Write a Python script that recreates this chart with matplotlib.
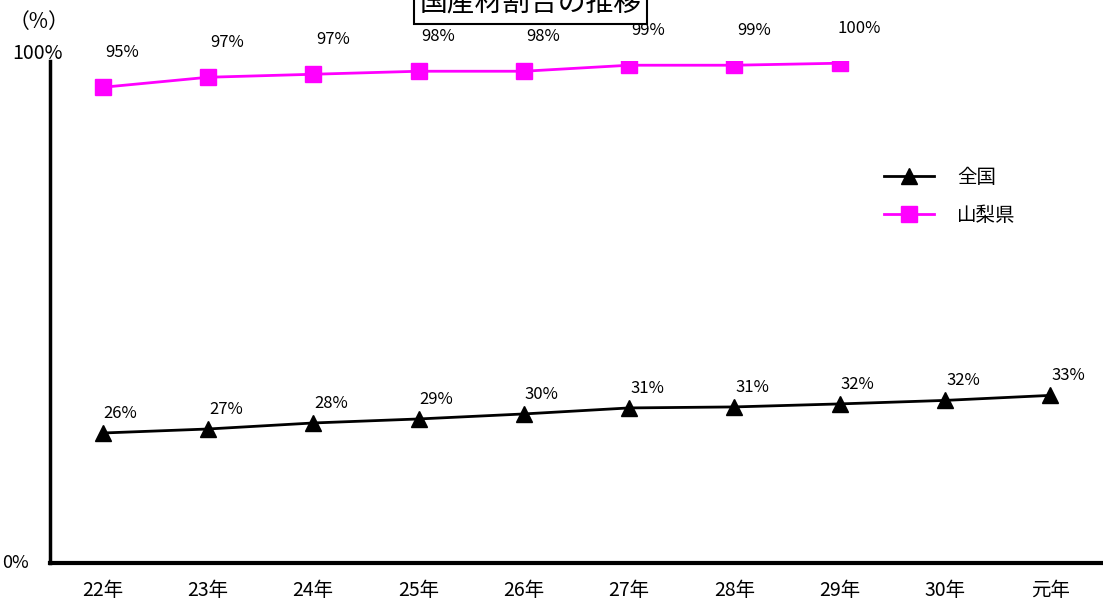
import matplotlib.pyplot as plt

plt.rcParams['font.family'] = ['Noto Sans CJK JP', 'DejaVu Sans']

# 年度
years = ['22年', '23年', '24年', '25年', '26年', '27年', '28年', '29年', '30年', '元年']
# 国産材割合（全国）
zenkoku = [25.9, 26.7, 27.9, 28.7, 29.7, 30.9, 31.1, 31.7, 32.4, 33.4]
zenkoku_lbl = ['26%', '27%', '28%', '29%', '30%', '31%', '31%', '32%', '32%', '33%']
# 国産材割合（山梨県）29年まで
yamanashi = [94.8, 96.8, 97.4, 98.0, 98.0, 99.2, 99.2, 99.6]
yamanashi_lbl = ['95%', '97%', '97%', '98%', '98%', '99%', '99%', '100%']

fig = plt.figure(figsize=(11.03, 6.06), dpi=100)
ax = fig.add_axes([0.0453, 0.071, 0.9547, 0.828])

x = list(range(len(years)))
ax.plot(x, zenkoku, color='black', lw=2, marker='^', ms=12, label='全国')
ax.plot(x[:len(yamanashi)], yamanashi, color='#ff00ff', lw=2, marker='s', ms=11, label='山梨県')

# 値ラベル
for i, (v, t) in enumerate(zip(zenkoku, zenkoku_lbl)):
    ax.annotate(t, (i, v), xytext=(13, 14), textcoords='offset points',
                ha='center', va='center', fontsize=12)
for i, (v, t) in enumerate(zip(yamanashi, yamanashi_lbl)):
    ax.annotate(t, (i, v), xytext=(14, 25), textcoords='offset points',
                ha='center', va='center', fontsize=12)

ax.set_xlim(-0.5, 9.5)
ax.set_ylim(0, 100)
ax.set_xticks(x)
ax.set_xticklabels(years, fontsize=14)
ax.tick_params(axis='x', length=0, pad=12)
ax.set_yticks([])
for s in ['top', 'right']:
    ax.spines[s].set_visible(False)
ax.spines['left'].set_linewidth(2.5)
ax.spines['bottom'].set_linewidth(3)

# 目盛ラベル
ax.text(-0.38, 101.5, '100%', ha='right', va='center', fontsize=14)
ax.text(-0.7, 0, '0%', ha='right', va='center', fontsize=13)
fig.text(0.008, 0.963, '（%）', ha='left', va='center', fontsize=15)

ax.legend(loc='upper left', bbox_to_anchor=(0.775, 0.825), frameon=False,
          fontsize=14, handlelength=2.6, handletextpad=1.2, labelspacing=0.9)

# タイトル（枠付き）
fig.text(0.481, 0.994, '国産材割合の推移', ha='center', va='center', fontsize=20,
         bbox=dict(boxstyle='square,pad=0.2', fc='white', ec='black', lw=1.5))

fig.savefig('out.png', dpi=100)
